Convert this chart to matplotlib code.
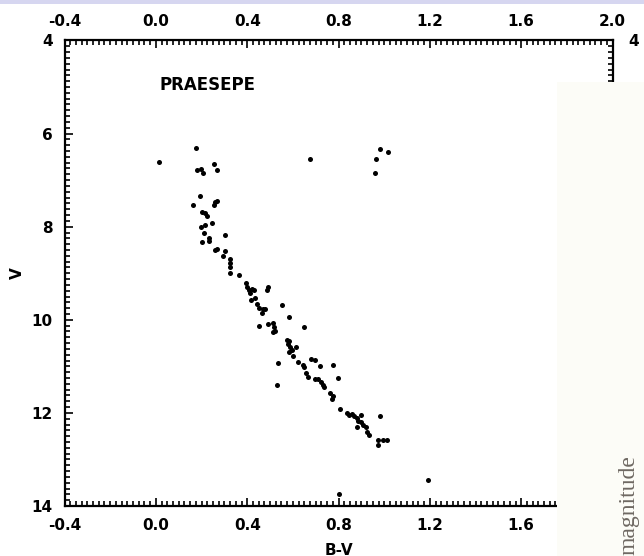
import matplotlib.pyplot as plt
from matplotlib.patches import Rectangle
from matplotlib.ticker import MultipleLocator

# Praesepe colour-magnitude diagram
bv = [0.176, 0.015, 0.179, 0.196, 0.205, 0.256, 0.267, 0.193, 0.164, 0.259,
      0.266, 0.255, 0.204, 0.215, 0.224, 0.245, 0.215, 0.197, 0.212, 0.233,
      0.234, 0.204, 0.304, 0.259, 0.268, 0.304, 0.295, 0.325, 0.325, 0.325,
      0.323, 0.364, 0.395, 0.399, 0.408, 0.420, 0.430, 0.412, 0.417, 0.434,
      0.493, 0.486, 0.444, 0.453, 0.471, 0.478, 0.464, 0.554, 0.582, 0.453,
      0.493, 0.512, 0.518, 0.522, 0.515, 0.650, 0.573, 0.585, 0.578, 0.588,
      0.595, 0.585, 0.599, 0.613, 0.621, 0.536, 0.646, 0.650, 0.680, 0.697,
      0.719, 0.777, 0.658, 0.668, 0.697, 0.712, 0.722, 0.731, 0.737, 0.797,
      0.532, 0.763, 0.775, 0.770, 0.807, 0.836, 0.846, 0.858, 0.868, 0.880,
      0.897, 0.887, 0.897, 0.909, 0.920, 0.882, 0.926, 0.934, 0.982, 0.974,
      0.994, 1.011, 0.974, 0.675, 0.982, 1.018, 0.963, 0.961, 1.19, 0.80]
vmag = [6.30, 6.62, 6.78, 6.77, 6.85, 6.65, 6.78, 7.33, 7.54, 7.46,
        7.45, 7.54, 7.68, 7.71, 7.77, 7.91, 7.96, 8.01, 8.14, 8.25,
        8.30, 8.33, 8.18, 8.49, 8.47, 8.53, 8.64, 8.70, 8.79, 8.87,
        8.99, 9.04, 9.22, 9.30, 9.36, 9.34, 9.37, 9.43, 9.57, 9.53,
        9.29, 9.37, 9.65, 9.74, 9.77, 9.77, 9.86, 9.68, 9.93, 10.13,
        10.08, 10.06, 10.15, 10.23, 10.26, 10.15, 10.43, 10.45, 10.52, 10.59,
        10.65, 10.69, 10.78, 10.58, 10.91, 10.92, 10.97, 11.02, 10.84, 10.86,
        10.99, 10.97, 11.15, 11.22, 11.28, 11.28, 11.33, 11.40, 11.45, 11.26,
        11.40, 11.58, 11.64, 11.71, 11.92, 12.00, 12.05, 12.03, 12.07, 12.10,
        12.05, 12.17, 12.19, 12.26, 12.30, 12.31, 12.40, 12.48, 12.06, 12.58,
        12.58, 12.58, 12.69, 6.55, 6.33, 6.39, 6.54, 6.84, 13.45, 13.75]

top_ticks = [-0.4, 0.0, 0.4, 0.8, 1.2, 1.6, 2.0]
bottom_ticks = [-0.4, 0.0, 0.4, 0.8, 1.2, 1.6]

fig = plt.figure(figsize=(6.44, 5.56), dpi=100)
ax = fig.add_axes([0.1002, 0.0899, 0.851, 0.8373])

ax.scatter(bv, vmag, s=13, color="black", linewidths=0, zorder=3)

ax.set_xlim(-0.4, 2.0)
ax.set_ylim(14, 4)
ax.xaxis.set_major_locator(MultipleLocator(0.4))
ax.xaxis.set_minor_locator(MultipleLocator(0.025))
ax.yaxis.set_major_locator(MultipleLocator(2))
ax.yaxis.set_minor_locator(MultipleLocator(0.125))
# bottom labels stop at 1.6, the right end is covered by the facing page
ax.xaxis.set_major_formatter(
    lambda v, p: "%.1f" % v if v < bottom_ticks[-1] + 0.1 else "")

ax.tick_params(which="both", direction="in", top=True, right=True,
               labeltop=False, labelright=False, width=1.2, pad=8.5,
               labelsize=11)
ax.tick_params(which="major", length=6)
ax.tick_params(which="minor", length=3.5)
for t in ax.xaxis.get_major_ticks() + ax.yaxis.get_major_ticks():
    t.label1.set_fontweight("bold")
for sp in ax.spines.values():
    sp.set_linewidth(1.6)

# labels of the top scale
secx = ax.secondary_xaxis("top")
secx.set_xticks(top_ticks)
secx.set_xticklabels(["%.1f" % v for v in top_ticks], fontweight="bold")
secx.tick_params(length=0, pad=8.5, labelsize=11)
secx.spines["top"].set_visible(False)

# only the top label of the right-hand scale shows
secy = ax.secondary_yaxis("right")
secy.set_yticks([4])
secy.set_yticklabels(["4"], fontweight="bold")
secy.tick_params(length=0, pad=11, labelsize=11)
secy.spines["right"].set_visible(False)

ax.set_xlabel("B-V", fontsize=11, fontweight="bold", labelpad=7)
ax.set_ylabel("V", fontsize=11, fontweight="bold", labelpad=5)
ax.text(0.018, 4.96, "PRAESEPE", fontsize=12, fontweight="bold",
        va="center", ha="left")

# page strip along the top and the facing page on the right
fig.add_artist(Rectangle((0, 1 - 4 / 556), 1, 4 / 556, transform=fig.transFigure,
                         facecolor="#d6d6f0", edgecolor="none", zorder=6))
fig.add_artist(Rectangle((557 / 644, 0), 1 - 557 / 644, 1 - 82 / 556,
                         transform=fig.transFigure, facecolor="#fcfcf7",
                         edgecolor="none", zorder=6))
fig.text(629 / 644, 0.002, "magnitude", rotation=90, family="Liberation Serif",
         fontsize=17, color="#6e6862", ha="center", va="bottom", zorder=7)

fig.savefig("out.png", dpi=100)
